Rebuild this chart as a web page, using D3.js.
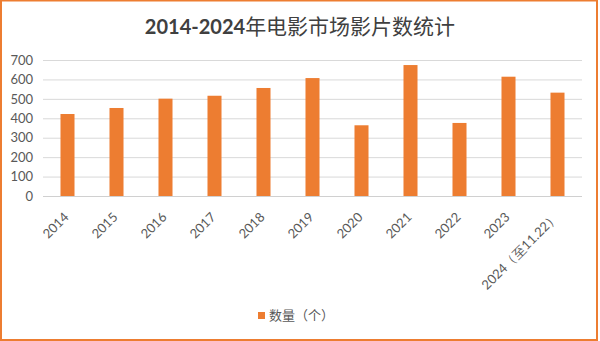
<!DOCTYPE html>
<html>
<head>
<meta charset="utf-8">
<script src="https://cdn.jsdelivr.net/npm/d3@7"></script>
<style>
  html, body { margin: 0; padding: 0; background: #fff; }
  svg { display: block; }
</style>
</head>
<body>
<svg id="chart" width="600" height="341"></svg>
<script>
// Films released in the Chinese market per year
const categories = ["2014", "2015", "2016", "2017", "2018", "2019", "2020", "2021", "2022", "2023", "2024（至11.22）"];
const counts = [422, 453, 501, 516, 556, 607, 364, 674, 376, 614, 532];
const yTicks = [0, 100, 200, 300, 400, 500, 600, 700];
const seriesName = "数量（个）";
const titleLatin = "2014-2024";
const titleCJK = "年电影市场影片数统计";

const W = 600, H = 341;
const margin = { left: 43, right: 18, top: 60, bottom: 145 };
const svg = d3.select("#chart");

const barColor = "#ED7D31";
const textColor = "#595959";
const latinFont = "Lato, 'Liberation Sans', sans-serif";
const cjkFont = "'Noto Sans CJK SC', sans-serif";

// outer frame
svg.append("rect")
  .attr("x", 1).attr("y", 0.5)
  .attr("width", 596).attr("height", 339.5)
  .attr("fill", "#fff")
  .attr("stroke", barColor)
  .attr("stroke-width", 2);

const x = d3.scaleBand()
  .domain(categories)
  .range([margin.left, W - margin.right])
  .paddingInner(0.714)
  .paddingOuter(0.357);

const y = d3.scaleLinear()
  .domain([0, 700])
  .range([196, 60]);

// title
const title = svg.append("text")
  .attr("x", 300).attr("y", 34)
  .attr("text-anchor", "middle")
  .attr("fill", "#404040");
title.append("tspan")
  .attr("font-family", latinFont)
  .attr("font-weight", "bold")
  .attr("font-size", 20)
  .text(titleLatin);
title.append("tspan")
  .attr("font-family", cjkFont)
  .attr("font-weight", 400)
  .attr("font-size", 21)
  .text(titleCJK);

// gridlines + y labels
const yAxis = d3.axisLeft(y)
  .tickValues(yTicks)
  .tickSize(-(W - margin.right - margin.left))
  .tickPadding(10);

const gy = svg.append("g")
  .attr("transform", `translate(${margin.left},0)`)
  .call(yAxis);
gy.select(".domain").remove();
gy.selectAll(".tick line")
  .attr("stroke", "#d9d9d9")
  .attr("stroke-width", 1);
gy.selectAll(".tick text")
  .attr("fill", textColor)
  .attr("font-family", latinFont)
  .attr("font-size", 13);

// bars
svg.append("g")
  .selectAll("rect")
  .data(categories.map((c, i) => ({ c, v: counts[i] })))
  .join("rect")
  .attr("x", d => x(d.c))
  .attr("y", d => y(d.v))
  .attr("width", x.bandwidth())
  .attr("height", d => y(0) - y(d.v))
  .attr("fill", barColor);

// baseline
svg.append("line")
  .attr("x1", margin.left).attr("x2", W - margin.right)
  .attr("y1", y(0) + 0.5).attr("y2", y(0) + 0.5)
  .attr("stroke", "#d0d0d0")
  .attr("stroke-width", 1);

// x labels, rotated
const xAxis = d3.axisBottom(x).tickSize(0).tickPadding(0);
const gx = svg.append("g")
  .attr("transform", `translate(0,${y(0)})`)
  .call(xAxis);
gx.select(".domain").remove();
gx.selectAll(".tick text")
  .attr("fill", textColor)
  .attr("font-family", latinFont)
  .attr("font-size", 13)
  .attr("text-anchor", "end")
  .attr("dy", 0)
  .attr("y", 0)
  .attr("transform", "translate(2,22) rotate(-45)");

// legend
const legend = svg.append("g").attr("transform", "translate(258,312)");
legend.append("rect")
  .attr("width", 7).attr("height", 7)
  .attr("fill", barColor);
legend.append("text")
  .attr("x", 11).attr("y", 8)
  .attr("fill", textColor)
  .attr("font-family", cjkFont)
  .attr("font-size", 13)
  .text(seriesName);
</script>
</body>
</html>
